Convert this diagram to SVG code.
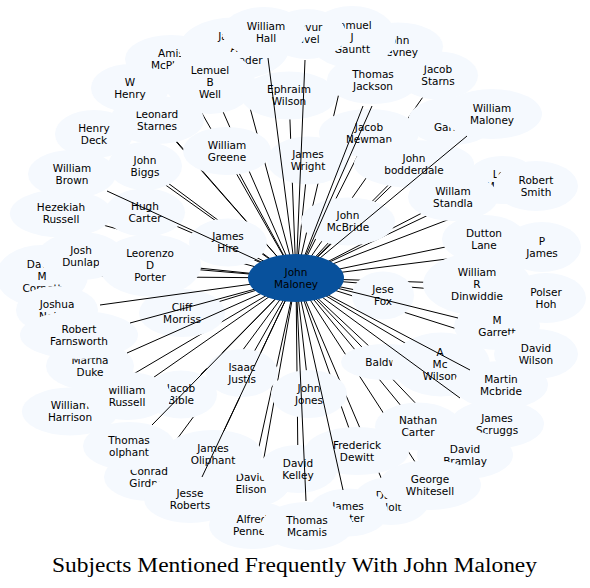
<svg xmlns="http://www.w3.org/2000/svg" xmlns:xlink="http://www.w3.org/1999/xlink" width="590" height="588" viewBox="0 0 590 588">
<style>
.node{fill:#f5f9fe}
.node text,.center text{fill:#000;font-family:"DejaVu Sans","Noto Sans",sans-serif;font-size:10.5px;text-anchor:middle}
.center{fill:#08519c}
.edges line{stroke:#000;stroke-width:1}
.title{font-family:"Liberation Serif","DejaVu Serif",serif;font-size:20px;fill:#000}
</style>
<defs>
<mask id="occ" maskUnits="userSpaceOnUse" x="0" y="0" width="590" height="588">
<rect width="590" height="588" fill="#fff"/>
<g fill="#000">
<use href="#e-amis"/><use href="#e-jalex"/><use href="#e-lemuel"/><use href="#e-leonard"/><use href="#e-whenry"/><use href="#e-hdeck"/><use href="#e-ephraim"/><use href="#e-newman"/><use href="#e-starns"/><use href="#e-devney"/><use href="#e-gauntt"/><use href="#e-wright"/><use href="#e-zevur"/><use href="#e-whall"/><use href="#e-jackson"/><use href="#e-greene"/><use href="#e-bodder"/><use href="#e-garner"/><use href="#e-wmaloney"/><use href="#e-lee"/><use href="#e-standla"/><use href="#e-rsmith"/><use href="#e-mcbride"/><use href="#e-dutton"/><use href="#e-pjames"/><use href="#e-dinwiddie"/><use href="#e-polser"/><use href="#e-jesefox"/><use href="#e-mgarrett"/><use href="#e-dwilson"/><use href="#e-bald"/><use href="#e-amcwilson"/><use href="#e-mmcbride"/><use href="#e-scruggs"/><use href="#e-ncarter"/><use href="#e-bramlay"/><use href="#e-holt"/><use href="#e-whitesell"/><use href="#e-dewitt"/><use href="#e-foster"/><use href="#e-elison"/><use href="#e-kelley"/><use href="#e-jjones"/><use href="#e-pennell"/><use href="#e-mcamis"/><use href="#e-justis"/><use href="#e-oliphant"/><use href="#e-girdner"/><use href="#e-jroberts"/><use href="#e-bible"/><use href="#e-harrison"/><use href="#e-wrussell"/><use href="#e-olphant"/><use href="#e-hezekiah"/><use href="#e-cornett"/><use href="#e-dunlap"/><use href="#e-porter"/><use href="#e-nelson"/><use href="#e-duke"/><use href="#e-morriss"/><use href="#e-farnsworth"/><use href="#e-hcarter"/><use href="#e-hire"/><use href="#e-biggs"/><use href="#e-wbrown"/>
</g>
</mask>
</defs>
<rect width="590" height="588" fill="#fff"/>

<g id="n-amis" class="node"><ellipse id="e-amis" cx="171" cy="59" rx="46" ry="24"/><text x="171" y="56.8"><tspan x="171">Amis</tspan><tspan x="171" dy="12">McPhail</tspan></text></g>
<g id="n-jalex" class="node"><ellipse id="e-jalex" cx="234" cy="48.5" rx="55" ry="31"/><text x="234" y="40.3"><tspan x="234">James</tspan><tspan x="234" dy="12">A</tspan><tspan x="236" dy="12">Alexander</tspan></text></g>
<g id="n-lemuel" class="node"><ellipse id="e-lemuel" cx="210" cy="82" rx="45" ry="32"/><text x="210" y="73.8"><tspan x="210">Lemuel</tspan><tspan x="210" dy="12">B</tspan><tspan x="210" dy="12">Well</tspan></text></g>
<g id="n-leonard" class="node"><ellipse id="e-leonard" cx="157" cy="120" rx="47" ry="24"/><text x="157" y="117.8"><tspan x="157">Leonard</tspan><tspan x="157" dy="12">Starnes</tspan></text></g>
<g id="n-whenry" class="node"><ellipse id="e-whenry" cx="130" cy="88" rx="39" ry="24"/><text x="130" y="85.8"><tspan x="130">W</tspan><tspan x="130" dy="12">Henry</tspan></text></g>
<g id="n-hdeck" class="node"><ellipse id="e-hdeck" cx="94" cy="134" rx="39" ry="24"/><text x="94" y="131.8"><tspan x="94">Henry</tspan><tspan x="94" dy="12">Deck</tspan></text></g>
<g id="n-ephraim" class="node"><ellipse id="e-ephraim" cx="289" cy="95.5" rx="48" ry="24"/><text x="289" y="93.3"><tspan x="289">Ephraim</tspan><tspan x="289" dy="12">Wilson</tspan></text></g>
<g id="n-newman" class="node"><ellipse id="e-newman" cx="369" cy="133" rx="50" ry="24"/><text x="369" y="130.8"><tspan x="369">Jacob</tspan><tspan x="369" dy="12">Newman</tspan></text></g>
<g id="n-starns" class="node"><ellipse id="e-starns" cx="438" cy="75.5" rx="40" ry="24"/><text x="438" y="73.3"><tspan x="438">Jacob</tspan><tspan x="438" dy="12">Starns</tspan></text></g>
<g id="n-devney" class="node"><ellipse id="e-devney" cx="398" cy="46.5" rx="45" ry="24"/><text x="398" y="44.3"><tspan x="398">John</tspan><tspan x="398" dy="12">Devney</tspan></text></g>
<g id="n-gauntt" class="node"><ellipse id="e-gauntt" cx="352" cy="37" rx="44" ry="31"/><text x="352" y="28.8"><tspan x="352">Samuel</tspan><tspan x="352" dy="12">J</tspan><tspan x="352" dy="12">Gauntt</tspan></text></g>
<g id="n-wright" class="node"><ellipse id="e-wright" cx="308" cy="160.5" rx="41" ry="24"/><text x="308" y="158.3"><tspan x="308">James</tspan><tspan x="308" dy="12">Wright</tspan></text></g>
<g id="n-zevur" class="node"><ellipse id="e-zevur" cx="307" cy="34" rx="39" ry="25"/><text x="307" y="31.3"><tspan x="307">Zevur</tspan><tspan x="305" dy="12">Ravel</tspan></text></g>
<g id="n-whall" class="node"><ellipse id="e-whall" cx="264" cy="32" rx="42" ry="25"/><text x="266" y="29.8"><tspan x="266">William</tspan><tspan x="266" dy="12">Hall</tspan></text></g>
<g id="n-jackson" class="node"><ellipse id="e-jackson" cx="373" cy="80" rx="46" ry="24"/><text x="373" y="77.8"><tspan x="373">Thomas</tspan><tspan x="373" dy="12">Jackson</tspan></text></g>
<g id="n-greene" class="node"><ellipse id="e-greene" cx="227" cy="151" rx="44" ry="24"/><text x="227" y="148.8"><tspan x="227">William</tspan><tspan x="227" dy="12">Greene</tspan></text></g>
<g id="n-bodder" class="node"><ellipse id="e-bodder" cx="414" cy="164" rx="60" ry="24"/><text x="414" y="161.8"><tspan x="414">John</tspan><tspan x="414" dy="12">bodderdale</tspan></text></g>
<g id="n-garner" class="node"><ellipse id="e-garner" cx="452" cy="121" rx="44" ry="24"/><text x="452" y="118.8"><tspan x="452">J</tspan><tspan x="452" dy="12">Garner</tspan></text></g>
<g id="n-wmaloney" class="node"><ellipse id="e-wmaloney" cx="492" cy="114" rx="50" ry="25"/><text x="492" y="111.8"><tspan x="492">William</tspan><tspan x="492" dy="12">Maloney</tspan></text></g>
<g id="n-lee" class="node"><ellipse id="e-lee" cx="502" cy="180" rx="36" ry="24"/><text x="502" y="177.8"><tspan x="502">Lee</tspan><tspan x="502" dy="12">Moore</tspan></text></g>
<g id="n-standla" class="node"><ellipse id="e-standla" cx="453" cy="197" rx="45" ry="24"/><text x="453" y="194.8"><tspan x="453">Willam</tspan><tspan x="453" dy="12">Standla</tspan></text></g>
<g id="n-rsmith" class="node"><ellipse id="e-rsmith" cx="536" cy="186" rx="42" ry="25"/><text x="536" y="183.8"><tspan x="536">Robert</tspan><tspan x="536" dy="12">Smith</tspan></text></g>
<g id="n-mcbride" class="node"><ellipse id="e-mcbride" cx="348" cy="221.5" rx="47" ry="24"/><text x="348" y="219.3"><tspan x="348">John</tspan><tspan x="348" dy="12">McBride</tspan></text></g>
<g id="n-dutton" class="node"><ellipse id="e-dutton" cx="484" cy="239" rx="42" ry="24"/><text x="484" y="236.8"><tspan x="484">Dutton</tspan><tspan x="484" dy="12">Lane</tspan></text></g>
<g id="n-pjames" class="node"><ellipse id="e-pjames" cx="542" cy="247" rx="39" ry="25"/><text x="542" y="244.8"><tspan x="542">P</tspan><tspan x="542" dy="12">James</tspan></text></g>
<g id="n-dinwiddie" class="node"><ellipse id="e-dinwiddie" cx="477" cy="284" rx="54" ry="31"/><text x="477" y="275.8"><tspan x="477">William</tspan><tspan x="477" dy="12">R</tspan><tspan x="477" dy="12">Dinwiddie</tspan></text></g>
<g id="n-polser" class="node"><ellipse id="e-polser" cx="546" cy="298" rx="40" ry="25"/><text x="546" y="295.8"><tspan x="546">Polser</tspan><tspan x="546" dy="12">Hoh</tspan></text></g>
<g id="n-jesefox" class="node"><ellipse id="e-jesefox" cx="383" cy="295.5" rx="31" ry="24"/><text x="383" y="293.3"><tspan x="383">Jese</tspan><tspan x="383" dy="12">Fox</tspan></text></g>
<g id="n-mgarrett" class="node"><ellipse id="e-mgarrett" cx="497" cy="326" rx="43" ry="24"/><text x="497" y="323.8"><tspan x="497">M</tspan><tspan x="497" dy="12">Garrett</tspan></text></g>
<g id="n-dwilson" class="node"><ellipse id="e-dwilson" cx="536" cy="354" rx="42" ry="25"/><text x="536" y="351.8"><tspan x="536">David</tspan><tspan x="536" dy="12">Wilson</tspan></text></g>
<g id="n-bald" class="node"><ellipse id="e-bald" cx="386" cy="362" rx="45" ry="18"/><text x="386" y="365.8">Baldwin</text></g>
<g id="n-amcwilson" class="node"><ellipse id="e-amcwilson" cx="441" cy="364.5" rx="49" ry="32"/><text x="440" y="356.3"><tspan x="440">A</tspan><tspan x="440" dy="12">Mc</tspan><tspan x="440" dy="12">Wilson</tspan></text></g>
<g id="n-mmcbride" class="node"><ellipse id="e-mmcbride" cx="501" cy="385" rx="47" ry="24"/><text x="501" y="382.8"><tspan x="501">Martin</tspan><tspan x="501" dy="12">Mcbride</tspan></text></g>
<g id="n-scruggs" class="node"><ellipse id="e-scruggs" cx="497" cy="424" rx="47" ry="24"/><text x="497" y="421.8"><tspan x="497">James</tspan><tspan x="497" dy="12">Scruggs</tspan></text></g>
<g id="n-ncarter" class="node"><ellipse id="e-ncarter" cx="418" cy="426.5" rx="43" ry="24"/><text x="418" y="424.3"><tspan x="418">Nathan</tspan><tspan x="418" dy="12">Carter</tspan></text></g>
<g id="n-bramlay" class="node"><ellipse id="e-bramlay" cx="465" cy="455" rx="48" ry="24"/><text x="465" y="452.8"><tspan x="465">David</tspan><tspan x="465" dy="12">Bramlay</tspan></text></g>
<g id="n-holt" class="node"><ellipse id="e-holt" cx="391" cy="501" rx="38" ry="24"/><text x="391" y="498.8"><tspan x="391">David</tspan><tspan x="391" dy="12">Holt</tspan></text></g>
<g id="n-whitesell" class="node"><ellipse id="e-whitesell" cx="430" cy="485" rx="51" ry="25"/><text x="430" y="482.8"><tspan x="430">George</tspan><tspan x="430" dy="12">Whitesell</tspan></text></g>
<g id="n-dewitt" class="node"><ellipse id="e-dewitt" cx="357" cy="451" rx="52" ry="24"/><text x="357" y="448.8"><tspan x="357">Frederick</tspan><tspan x="357" dy="12">Dewitt</tspan></text></g>
<g id="n-foster" class="node"><ellipse id="e-foster" cx="348" cy="512.5" rx="40" ry="24"/><text x="348" y="510.3"><tspan x="348">James</tspan><tspan x="348" dy="12">Foster</tspan></text></g>
<g id="n-elison" class="node"><ellipse id="e-elison" cx="251" cy="483" rx="39" ry="24"/><text x="251" y="480.8"><tspan x="251">David</tspan><tspan x="251" dy="12">Elison</tspan></text></g>
<g id="n-kelley" class="node"><ellipse id="e-kelley" cx="298" cy="469" rx="39" ry="24"/><text x="298" y="466.8"><tspan x="298">David</tspan><tspan x="298" dy="12">Kelley</tspan></text></g>
<g id="n-jjones" class="node"><ellipse id="e-jjones" cx="309" cy="394" rx="38" ry="24"/><text x="309" y="391.8"><tspan x="309">John</tspan><tspan x="309" dy="12">Jones</tspan></text></g>
<g id="n-pennell" class="node"><ellipse id="e-pennell" cx="252" cy="525" rx="43" ry="24"/><text x="252" y="522.8"><tspan x="252">Alfred</tspan><tspan x="252" dy="12">Pennell</tspan></text></g>
<g id="n-mcamis" class="node"><ellipse id="e-mcamis" cx="307" cy="526" rx="46" ry="24"/><text x="307" y="523.8"><tspan x="307">Thomas</tspan><tspan x="307" dy="12">Mcamis</tspan></text></g>
<g id="n-justis" class="node"><ellipse id="e-justis" cx="242" cy="373" rx="36" ry="24"/><text x="242" y="370.8"><tspan x="242">Isaac</tspan><tspan x="242" dy="12">Justis</tspan></text></g>
<g id="n-oliphant" class="node"><ellipse id="e-oliphant" cx="213" cy="454" rx="49" ry="24"/><text x="213" y="451.8"><tspan x="213">James</tspan><tspan x="213" dy="12">Oliphant</tspan></text></g>
<g id="n-girdner" class="node"><ellipse id="e-girdner" cx="149" cy="477" rx="45" ry="24"/><text x="149" y="474.8"><tspan x="149">Conrad</tspan><tspan x="149" dy="12">Girdner</tspan></text></g>
<g id="n-jroberts" class="node"><ellipse id="e-jroberts" cx="190" cy="499" rx="46" ry="24"/><text x="190" y="496.8"><tspan x="190">Jesse</tspan><tspan x="190" dy="12">Roberts</tspan></text></g>
<g id="n-bible" class="node"><ellipse id="e-bible" cx="181" cy="394.5" rx="36" ry="24"/><text x="181" y="392.3"><tspan x="181">Jacob</tspan><tspan x="181" dy="12">Bible</tspan></text></g>
<g id="n-harrison" class="node"><ellipse id="e-harrison" cx="70" cy="411.5" rx="48" ry="24"/><text x="70" y="409.3"><tspan x="70">William</tspan><tspan x="70" dy="12">Harrison</tspan></text></g>
<g id="n-wrussell" class="node"><ellipse id="e-wrussell" cx="127" cy="396" rx="44" ry="24"/><text x="127" y="393.8"><tspan x="127">william</tspan><tspan x="127" dy="12">Russell</tspan></text></g>
<g id="n-olphant" class="node"><ellipse id="e-olphant" cx="129" cy="446" rx="46" ry="24"/><text x="129" y="443.8"><tspan x="129">Thomas</tspan><tspan x="129" dy="12">olphant</tspan></text></g>
<g id="n-hezekiah" class="node"><ellipse id="e-hezekiah" cx="61" cy="213.5" rx="51" ry="24"/><text x="61" y="211.3"><tspan x="61">Hezekiah</tspan><tspan x="61" dy="12">Russell</tspan></text></g>
<g id="n-cornett" class="node"><ellipse id="e-cornett" cx="42" cy="276" rx="46" ry="31"/><text x="42" y="267.8"><tspan x="42">David</tspan><tspan x="42" dy="12">M</tspan><tspan x="42" dy="12">Cornett</tspan></text></g>
<g id="n-dunlap" class="node"><ellipse id="e-dunlap" cx="81" cy="256" rx="43" ry="24"/><text x="81" y="253.8"><tspan x="81">Josh</tspan><tspan x="81" dy="12">Dunlap</tspan></text></g>
<g id="n-porter" class="node"><ellipse id="e-porter" cx="150" cy="265.5" rx="51" ry="31"/><text x="150" y="257.3"><tspan x="150">Leorenzo</tspan><tspan x="150" dy="12">D</tspan><tspan x="150" dy="12">Porter</tspan></text></g>
<g id="n-nelson" class="node"><ellipse id="e-nelson" cx="57" cy="310" rx="41" ry="24"/><text x="57" y="307.8"><tspan x="57">Joshua</tspan><tspan x="57" dy="12">Nelson</tspan></text></g>
<g id="n-duke" class="node"><ellipse id="e-duke" cx="90" cy="366" rx="44" ry="24"/><text x="90" y="363.8"><tspan x="90">Martha</tspan><tspan x="90" dy="12">Duke</tspan></text></g>
<g id="n-morriss" class="node"><ellipse id="e-morriss" cx="182" cy="313" rx="43" ry="24"/><text x="182" y="310.8"><tspan x="182">Cliff</tspan><tspan x="182" dy="12">Morriss</tspan></text></g>
<g id="n-farnsworth" class="node"><ellipse id="e-farnsworth" cx="79" cy="335" rx="59" ry="24"/><text x="79" y="332.8"><tspan x="79">Robert</tspan><tspan x="79" dy="12">Farnsworth</tspan></text></g>
<g id="n-hcarter" class="node"><ellipse id="e-hcarter" cx="145" cy="212.5" rx="40" ry="24"/><text x="145" y="210.3"><tspan x="145">Hugh</tspan><tspan x="145" dy="12">Carter</tspan></text></g>
<g id="n-hire" class="node"><ellipse id="e-hire" cx="228" cy="242.5" rx="39" ry="24"/><text x="228" y="240.3"><tspan x="228">James</tspan><tspan x="228" dy="12">Hire</tspan></text></g>
<g id="n-biggs" class="node"><ellipse id="e-biggs" cx="145" cy="166" rx="37" ry="24"/><text x="145" y="163.8"><tspan x="145">John</tspan><tspan x="145" dy="12">Biggs</tspan></text></g>
<g id="n-wbrown" class="node"><ellipse id="e-wbrown" cx="72" cy="174" rx="44" ry="24"/><text x="72" y="171.8"><tspan x="72">William</tspan><tspan x="72" dy="12">Brown</tspan></text></g>

<g id="edges" class="edges">
<g mask="url(#occ)">
<line x1="296" y1="278" x2="171" y2="59"/>
<line x1="296" y1="278" x2="234" y2="48.5"/>
<line x1="296" y1="278" x2="210" y2="82"/>
<line x1="296" y1="278" x2="157" y2="120"/>
<line x1="296" y1="278" x2="130" y2="88"/>
<line x1="296" y1="278" x2="94" y2="134"/>
<line x1="296" y1="278" x2="289" y2="95.5"/>
<line x1="296" y1="278" x2="369" y2="133"/>
<line x1="296" y1="278" x2="438" y2="75.5"/>
<line x1="296" y1="278" x2="352" y2="37"/>
<line x1="296" y1="278" x2="308" y2="160.5"/>
<line x1="296" y1="278" x2="227" y2="151"/>
<line x1="296" y1="278" x2="414" y2="164"/>
<line x1="296" y1="278" x2="452" y2="121"/>
<line x1="296" y1="278" x2="502" y2="180"/>
<line x1="296" y1="278" x2="453" y2="197"/>
<line x1="296" y1="278" x2="536" y2="186"/>
<line x1="296" y1="278" x2="348" y2="221.5"/>
<line x1="296" y1="278" x2="484" y2="239"/>
<line x1="296" y1="278" x2="542" y2="247"/>
<line x1="296" y1="278" x2="477" y2="284"/>
<line x1="296" y1="278" x2="546" y2="298"/>
<line x1="296" y1="278" x2="383" y2="295.5"/>
<line x1="296" y1="278" x2="536" y2="354"/>
<line x1="296" y1="278" x2="386" y2="362"/>
<line x1="296" y1="278" x2="441" y2="364.5"/>
<line x1="296" y1="278" x2="418" y2="426.5"/>
<line x1="296" y1="278" x2="465" y2="455"/>
<line x1="296" y1="278" x2="391" y2="501"/>
<line x1="296" y1="278" x2="430" y2="485"/>
<line x1="296" y1="278" x2="357" y2="451"/>
<line x1="296" y1="278" x2="251" y2="483"/>
<line x1="296" y1="278" x2="298" y2="469"/>
<line x1="296" y1="278" x2="309" y2="394"/>
<line x1="296" y1="278" x2="252" y2="525"/>
<line x1="296" y1="278" x2="242" y2="373"/>
<line x1="296" y1="278" x2="213" y2="454"/>
<line x1="296" y1="278" x2="149" y2="477"/>
<line x1="296" y1="278" x2="181" y2="394.5"/>
<line x1="296" y1="278" x2="70" y2="411.5"/>
<line x1="296" y1="278" x2="127" y2="396"/>
<line x1="296" y1="278" x2="61" y2="213.5"/>
<line x1="296" y1="278" x2="42" y2="276"/>
<line x1="296" y1="278" x2="81" y2="256"/>
<line x1="296" y1="278" x2="150" y2="265.5"/>
<line x1="296" y1="278" x2="182" y2="313"/>
<line x1="296" y1="278" x2="145" y2="212.5"/>
<line x1="296" y1="278" x2="228" y2="242.5"/>
<line x1="296" y1="278" x2="145" y2="166"/>
</g>
<line x1="296" y1="278" x2="268" y2="58"/>
<line x1="296" y1="278" x2="305" y2="60"/>
<line x1="296" y1="278" x2="363" y2="106"/>
<line x1="296" y1="278" x2="372" y2="106"/>
<line x1="296" y1="278" x2="467" y2="136"/>
<line x1="296" y1="278" x2="107" y2="191"/>
<line x1="296" y1="278" x2="458" y2="318"/>
<line x1="296" y1="278" x2="306" y2="501"/>
<line x1="296" y1="278" x2="130" y2="323"/>
<line x1="296" y1="278" x2="127" y2="353"/>
<line x1="296" y1="278" x2="100" y2="305"/>
<line x1="296" y1="278" x2="152" y2="425"/>
<line x1="296" y1="278" x2="202" y2="477"/>
<line x1="296" y1="278" x2="343" y2="490"/>
<line x1="296" y1="278" x2="470" y2="370"/>
<line x1="296" y1="278" x2="460" y2="398"/>
</g>

<g id="n-center" class="center"><ellipse cx="296" cy="278" rx="48" ry="24"/><text x="296" y="275.8"><tspan x="296">John</tspan><tspan x="296" dy="12">Maloney</tspan></text></g>

<text class="title" x="52" y="572" textLength="485" lengthAdjust="spacingAndGlyphs">Subjects Mentioned Frequently With John Maloney</text>
</svg>
